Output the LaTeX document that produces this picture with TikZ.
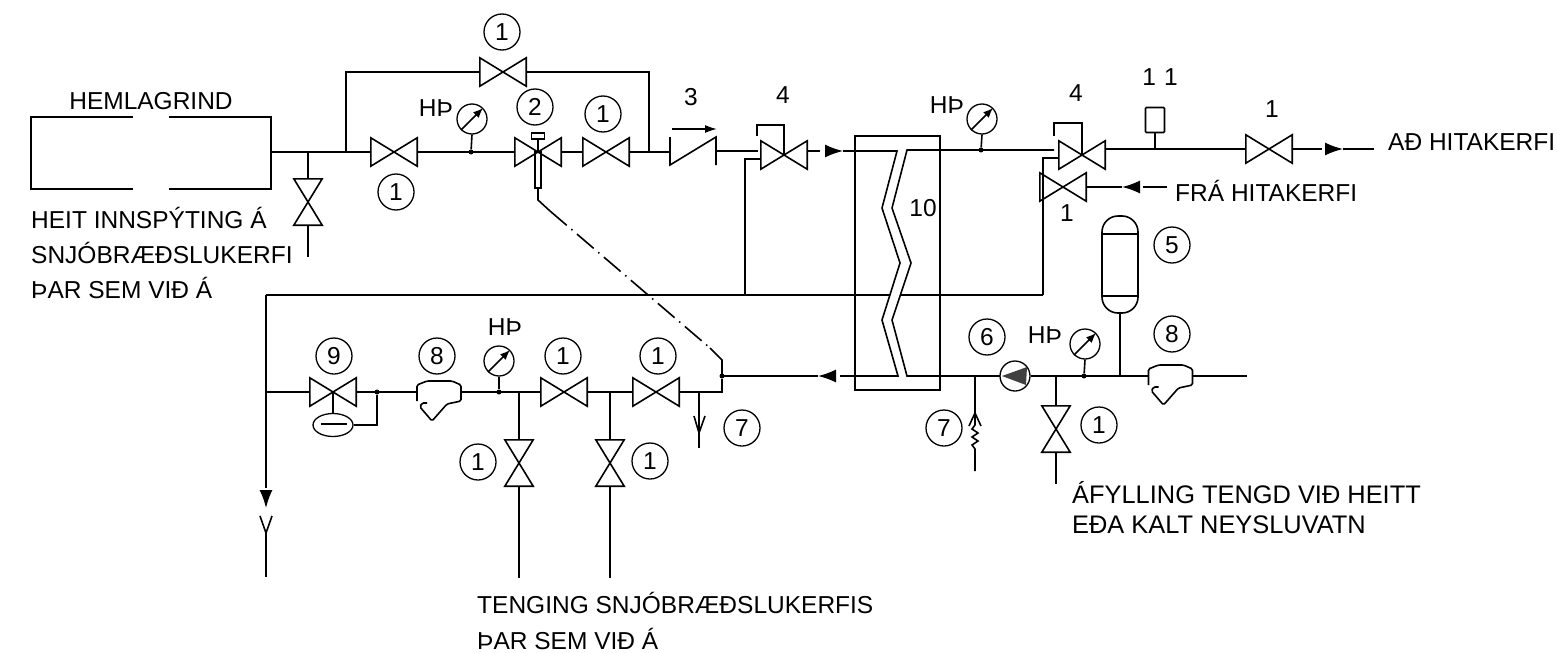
\documentclass[tikz,border=0pt]{standalone}
\usepackage{fontspec}
\setmainfont{Liberation Sans}
\usetikzlibrary{arrows.meta,shapes.geometric}
\tikzset{>=latex}
\tikzset{
	pipe/.style={line width=1.6pt},
	flow/.style={-{Latex[length=18pt,width=13pt]}},
	lbl/.style={font=\fontsize{24.5}{29}\selectfont,inner sep=0pt,align=left},
	callout/.style={draw,line width=1.3pt,circle,minimum size=36pt,inner sep=0pt,font=\fontsize{24.5}{29}\selectfont},
	dot/.style={circle,fill,inner sep=0pt,minimum size=5pt},
	hvalve/.style={inner sep=0pt,minimum width=46pt,minimum height=28pt,append after command={\pgfextra{
		\draw[pipe] (\tikzlastnode.south west) -- (\tikzlastnode.north east) -- (\tikzlastnode.south east) -- (\tikzlastnode.north west) -- cycle;}}},
	vvalve/.style={inner sep=0pt,minimum width=28pt,minimum height=46pt,append after command={\pgfextra{
		\draw[pipe] (\tikzlastnode.north west) -- (\tikzlastnode.north east) -- (\tikzlastnode.south west) -- (\tikzlastnode.south east) -- cycle;}}},
	gauge/.style={draw,line width=1.3pt,circle,minimum size=30pt,inner sep=0pt,append after command={\pgfextra{
		\draw[pipe,-{Latex[length=10pt,width=8pt]}] (\tikzlastnode.225) -- (\tikzlastnode.45);}}},
	strainer/.style={inner sep=0pt,minimum width=44pt,minimum height=24pt,append after command={\pgfextra{
		\draw[pipe,rounded corners=1.5pt,shift={(\tikzlastnode.center)}] (-22,9) -- (-22,-7) -- (-12,-11) -- (13,-11) -- (22,-7) -- (22,9) -- (8,12) -- (-7,29) -- (-19,15) -- (-17,11) -- (-12,11);}}},
}

\begin{document}
\begin{tikzpicture}[x=1pt,y=-1pt]
	\useasboundingbox (0,0) rectangle (1558,653);
	% hemlagrind
	\draw[pipe] (133,117) -- (31,117) -- (31,189) -- (133,189);
	\draw[pipe] (169,117) -- (271,117) -- (271,189) -- (169,189);
	\node[lbl] (hemla) at (151,101) {HEMLAGRIND};
	\node[lbl,anchor=north west] (heit) at (31,207) {HEIT INNSPÝTING Á\\[6pt]SNJÓBRÆÐSLUKERFI\\[6pt]ÞAR SEM VIÐ Á};

	\foreach \i/\xx/\yy/\t in {a/502/32/1,b/396/192/1,c/535/107/2,d/603/114/1,e/1172/245/5,f/1172/334/8,g/987/337/6,h/944/428/7,i/1099/425/1,j/334/356/9,k/437/356/8,l/563/356/1,m/658/356/1,n/478/462/1,o/650/461/1,p/742/428/7}
		\node[callout] (c\i) at (\xx,\yy) {\t};

	\foreach \i/\xx/\yy/\t in {a/691/97/3,b/783/95/4,c/1076/93/4,d/1160/77/1\,\,1,e/1272/109/1,f/1067/213/1,g/436/108/HÞ,h/947/105/HÞ,i/505/327/HÞ,j/1045/335/HÞ,k/923/208/10}
		\node[lbl] (t\i) at (\xx,\yy) {\t};

	% upper line
	\coordinate (hemr) at (271,152);
	\coordinate (tee1) at (308,152);
	\coordinate (tee2) at (346,152);
	\node[hvalve] (v1) at (394,152) {};
	\node[hvalve] (vby) at (503,72) {};
	\node[hvalve] (v2) at (538,152) {};
	\node[hvalve] (v3) at (606,152) {};
	\node[vvalve] (vtap) at (308,202) {};
	\node[gauge] (g1) at (472,119) {};
	\node[dot] (d1) at (471,152) {};
	\draw[pipe] (hemr) -- (v1.west);
	\draw[pipe] (tee1) -- (vtap.north);
	\draw[pipe] (vtap.south) -- (308,257);
	\draw[pipe] (tee2) -- (tee2 |- vby) -- (vby.west);
	\draw[pipe] (vby.east) -- (649,72) -- (649,152);
	\draw[pipe] (v1.east) -- (v2.west);
	\draw[pipe] (g1.south) -- (d1);
	\draw[pipe] (v2.east) -- (v3.west);

	% control valve head and sensor
	\node[draw,pipe,minimum width=13pt,minimum height=6pt,inner sep=0pt] (act) at (538,136) {};
	\node[draw,pipe,minimum width=6pt,minimum height=36pt,inner sep=0pt] (sens) at (538,170) {};
	\draw[pipe] (act) -- (v2.center);
	\draw[pipe] (sens.south) -- (538,200) -- (550,211);
	\coordinate (ctrl) at (722,376);
	\draw[pipe,dash pattern=on 22pt off 6pt on 1.5pt off 6pt] (550,211) -- (710,348);
	\draw[pipe] (710,348) -- (722,360) -- (ctrl);

	% check valve
	\draw[pipe] (670,137) -- (670,165) -- (716,137) -- (716,165);
	\draw[pipe,-{Latex[length=12pt,width=8pt]}] (672,129) -- (717,129);
	\draw[pipe] (v3.east) -- (670,152);
	\draw[pipe] (716,151) -- (758,151);

	% regulators
	\node[hvalve] (v4) at (784,155) {};
	\node[hvalve] (v5) at (1082,155) {};
	\node[hvalve] (v6) at (1063,187) {};
	\node[hvalve] (v7) at (1269,149) {};
	\draw[pipe] (v4.center) -- (784,125) -- (757,125) -- (757,136);
	\draw[pipe] (v5.center) -- (1082,123) -- (1054,123) -- (1054,136);
	\draw[pipe] (761,159) -- (745,159) -- (745,295);
	\draw[pipe] (1059,158) -- (1043,158) -- (1043,295);

	% heat exchanger
	\node[draw,pipe,minimum width=85pt,minimum height=254pt,inner sep=0pt] (hx) at (897.5,263) {};
	\node[gauge] (g2) at (982,119) {};
	\node[dot] (d2) at (981,150) {};
	\draw[pipe] (g2.south) -- (d2);
	\draw[pipe] (807,151) -- (820,151);
	\draw[pipe,flow] (825,151) -- (843,151);
	\draw[pipe] (843,151) -- (897,151) -- (882,208) -- (900,263) -- (882,320) -- (898,376) -- (840,376);
	\draw[pipe,flow] (836,376) -- (818,376);
	\draw[pipe] (818,376) -- (ctrl);
	\draw[pipe] (1054,150) -- (907,150) -- (892,208) -- (911,263) -- (892,320) -- (907,376) -- (1000,376);
	\draw[pipe] (266,295) -- (890,295);
	\draw[pipe] (900,295) -- (1043,295);

	% outlet
	\node[draw,pipe,rounded corners=1pt,minimum width=19pt,minimum height=25pt,inner sep=0pt] (box11) at (1155,120) {};
	\draw[pipe] (box11.south) -- (1155,149);
	\draw[pipe] (v5.east |- v7) -- (v7.west);
	\draw[pipe] (v7.east) -- (1322,149);
	\draw[pipe,flow] (1325,149) -- (1343,149);
	\draw[pipe] (1343,149) -- (1374,149);
	\node[lbl,anchor=west] (adh) at (1388,142) {AÐ HITAKERFI};
	\node[lbl,anchor=west] (frah) at (1175,191) {FRÁ HITAKERFI};
	\draw[pipe] (1167,187) -- (1143,187);
	\draw[pipe,flow] (1140,187) -- (1122,187);
	\draw[pipe] (1122,187) -- (v6.east);

	% expansion tank
	\node[draw,pipe,rounded corners=16pt,minimum width=36pt,minimum height=97pt,inner sep=0pt] (tank) at (1120,264.5) {};
	\draw[pipe] (1102,234) -- (1138,234);
	\draw[pipe] (1102,296) -- (1138,296);

	% return line right
	\node[strainer] (s1) at (1170.5,376) {};
	\node[draw,line width=1.3pt,circle,minimum size=30pt,inner sep=0pt] (pump) at (1015,376) {};
	\fill[black!75] (1002,376) -- (1027,367) -- (1026,385) -- cycle;
	\node[gauge] (g3) at (1085,344) {};
	\node[dot] (d3) at (1084,376) {};
	\node[vvalve] (v8) at (1056,429) {};
	\node[lbl,font=\fontsize{25.4}{30}\selectfont,anchor=north west] (afyl) at (1072,481) {ÁFYLLING TENGD VIÐ HEITT\\EÐA KALT NEYSLUVATN};
	\draw[pipe] (pump.east) -- (s1.west);
	\draw[pipe] (s1.east) -- (1247,376);
	\draw[pipe] (g3.south) -- (d3);
	\draw[pipe] (tank.south) -- (1120,376);
	\draw[pipe] (1056,376) -- (v8.north);
	\draw[pipe] (v8.south) -- (1056,484);
	\draw[pipe] (975,376) -- (975,425) -- (972,429) -- (978,433) -- (972,437) -- (978,441) -- (972,445) -- (975,449) -- (975,471);
	\draw[pipe] (969,426) .. controls (972,420) .. (975,413) .. controls (978,420) .. (981,426);

	% return line left
	\node[dot] (d4) at (722,376) {};
	\node[hvalve] (v9) at (656,392) {};
	\node[hvalve] (v10) at (564,392) {};
	\node[hvalve] (v11) at (333,392) {};
	\node[vvalve] (v12) at (610,463) {};
	\node[vvalve] (v13) at (519,463) {};
	\node[strainer] (s2) at (439,392) {};
	\node[gauge] (g4) at (499,361) {};
	\node[dot] (d5) at (499,392) {};
	\node[dot] (d6) at (377,392) {};
	\node[draw,line width=1.3pt,ellipse,minimum width=40pt,minimum height=23pt,inner sep=0pt] (diaph) at (333,425) {};
	\draw[pipe] (d4) -- (722,392) -- (v9.east);
	\draw[pipe] (v9.west) -- (v10.east);
	\draw[pipe] (v10.west) -- (s2.east);
	\draw[pipe] (g4.south) -- (d5);
	\draw[pipe] (610,392) -- (v12.north);
	\draw[pipe] (519,392) -- (v13.north);
	\draw[pipe] (v12.south) -- (610,578);
	\draw[pipe] (v13.south) -- (519,578);
	\draw[pipe] (s2.west) -- (v11.east);
	\draw[pipe] (v11.west) -- (266,392);
	\draw[pipe] (v11.center) -- (diaph.north);
	\draw[pipe] (321,424) -- (347,424);
	\draw[pipe] (diaph.east) -- (377,425) -- (d6);
	\node[lbl,anchor=north west] (teng) at (477,592) {TENGING SNJÓBRÆÐSLUKERFIS\\[7pt]ÞAR SEM VIÐ Á};

	% drains
	\draw[pipe] (266,295) -- (266,488);
	\draw[pipe,flow] (266,490) -- (266,508);
	\draw[pipe] (260,516) -- (266,533) -- (272,516);
	\draw[pipe] (266,533) -- (266,577);
	\draw[pipe] (699,392) -- (699,448);
	\draw[pipe] (694,416) -- (699,433) -- (705,416);
\end{tikzpicture}
\end{document}
